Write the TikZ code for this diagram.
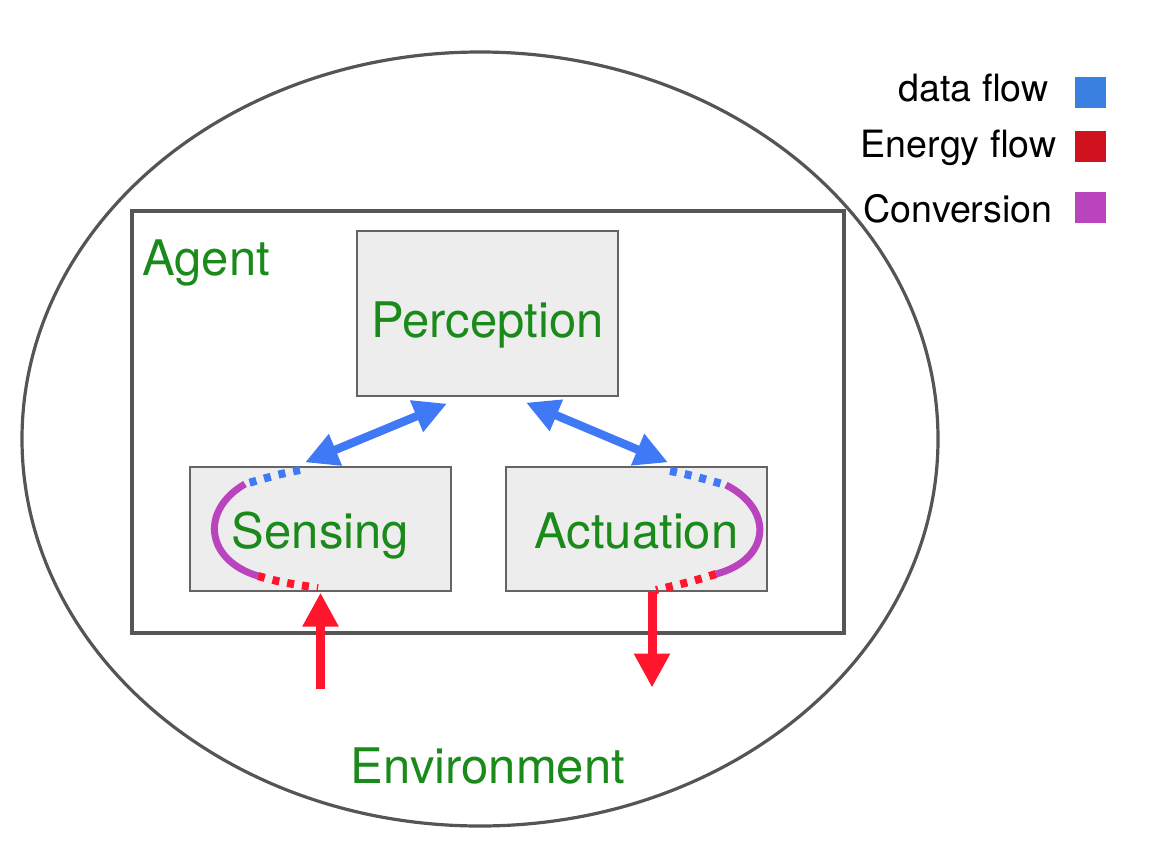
\documentclass[tikz,border=0pt]{standalone}
\usepackage{fontspec}
\setmainfont{TeX Gyre Heros}
\usepackage{tikz}
\usetikzlibrary{positioning,calc,arrows.meta}

\definecolor{agentgreen}{RGB}{26,138,26}
\definecolor{framegray}{RGB}{85,85,85}
\definecolor{boxgray}{RGB}{100,100,100}
\definecolor{boxfill}{RGB}{237,237,237}
\definecolor{datablue}{RGB}{64,121,246}
\definecolor{energyred}{RGB}{255,22,44}
\definecolor{convpurple}{RGB}{185,68,190}
\definecolor{legblue}{RGB}{58,128,224}
\definecolor{legred}{RGB}{208,18,30}

\begin{document}
\begin{tikzpicture}[x=0.5pt,y=-0.5pt,
    big/.style={font=\fontsize{24.5}{29}\selectfont, text=agentgreen},
    box/.style={big, draw=boxgray, line width=0.6pt, fill=boxfill, inner sep=0pt,
        minimum width=130.5pt, minimum height=62pt, text depth=0pt, text height=19pt},
    dataflow/.style={datablue, line width=4.2pt, {Triangle[length=16.5pt,width=16pt]}-{Triangle[length=16.5pt,width=16pt]}},
    energyflow/.style={energyred, line width=4.5pt, -{Triangle[length=17pt,width=17pt]}},
    dotdata/.style={datablue, line width=4pt, dash pattern=on 3.5pt off 4pt},
    dotenergy/.style={energyred, line width=4pt, dash pattern=on 3.5pt off 4pt},
    conv/.style={convpurple, line width=3.5pt},
    legbox/.style={minimum size=15.5pt, inner sep=0pt},
    legtext/.style={font=\fontsize{18.8}{22}\selectfont, anchor=base east, inner sep=0pt}]
    \useasboundingbox (0,0) rectangle (1160,840);

    % environment and agent
    \draw[framegray, line width=1.6pt] (480,439) ellipse [x radius=229pt, y radius=193.5pt];
    \node[draw=framegray, line width=1.6pt, minimum width=356pt, minimum height=211pt] (agent) at (488,422) {};
    \node[big, anchor=base west, inner sep=0pt] (agentlabel) at (142,275) {Agent};
    \node[big, anchor=base, inner sep=0pt] (envlabel) at (488,783) {Environment};

    % blocks
    \node[box, minimum height=82.5pt, text height=23.5pt] (perc) at (487.5,313.5) {Perception};
    \node[box] (sens) at (320.5,529) {Sensing};
    \node[box] (act) at (636.5,529) {Actuation};

    % data flow
    \draw[dataflow] ($(sens.north)+(-15.5,-4)$) -- ($(perc.south)+(-40.5,7)$);
    \draw[dataflow] ($(perc.south)+(38.5,6)$) -- ($(act.north)+(31.5,-4)$);

    % energy flow
    \draw[energyflow] ($(sens.south)+(0,97)$) -- ($(sens.south)+(0,1)$);
    \draw[energyflow] ($(act.south)+(15.5,0)$) -- ($(act.south)+(15.5,96)$);

    % conversion inside the blocks
    \draw[dotdata] (300,470) .. controls (280,474) .. (245,484);
    \draw[conv] (245,484) .. controls (200,510) and (205,560) .. (258,576);
    \draw[dotenergy] (258,576) .. controls (280,582) .. (318,588);
    \draw[dotdata] (670,471) .. controls (690,475) .. (726,485);
    \draw[conv] (726,485) .. controls (775,510) and (770,560) .. (716,574);
    \draw[dotenergy] (716,574) .. controls (690,582) .. (656,590);

    % legend
    \node[legbox, fill=legblue] (legdata) at (1090.5,93) {};
    \node[legbox, fill=legred] (legenergy) at (1090.5,146.5) {};
    \node[legbox, fill=convpurple] (legconv) at (1090.5,207) {};
    \node[legtext] (datatext) at (1049,102) {data flow};
    \node[legtext] (energytext) at (1057,157) {Energy flow};
    \node[legtext] (convtext) at (1053,222) {Conversion};
\end{tikzpicture}
\end{document}
